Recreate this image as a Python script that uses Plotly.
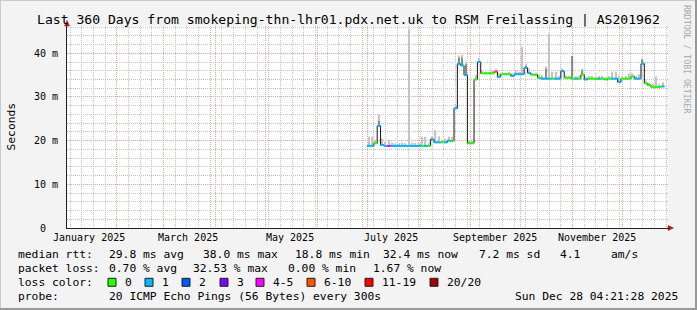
import plotly.graph_objects as go
import pandas as pd

# ---------------- data ----------------
TITLE = "Last 360 Days from smokeping-thn-lhr01.pdx.net.uk to RSM Freilassing | AS201962"
END = pd.Timestamp("2025-12-28 04:21:28")
START = END - pd.Timedelta(days=360)

# one sample per 2 days, starting 2025-07-01
dates = pd.date_range("2025-07-01", periods=89, freq="2D")

median_ms = [
    18.8, 18.8, 19.4, 23.4, 19.0, 18.8, 18.8, 18.8, 18.8, 18.8,
    18.8, 18.8, 18.8, 18.8, 18.8, 18.8, 18.8, 18.8, 18.8, 20.3,
    19.6, 19.6, 19.6, 19.6, 20.0, 19.9, 27.4, 37.6, 37.2, 35.0,
    19.4, 19.4, 34.0, 38.0, 35.4, 35.4, 35.4, 35.4, 35.8, 34.6,
    35.2, 35.2, 35.2, 34.8, 35.2, 35.2, 35.2, 36.7, 35.5, 35.1,
    35.1, 34.4, 34.2, 34.2, 34.2, 34.2, 34.2, 34.2, 35.9, 34.4,
    34.4, 34.2, 34.2, 34.2, 35.1, 34.0, 34.2, 34.2, 34.1, 34.2,
    34.2, 34.0, 34.2, 34.2, 34.2, 33.4, 34.2, 34.2, 34.2, 34.7,
    34.2, 34.2, 37.6, 33.1, 32.7, 32.3, 32.3, 32.3, 32.4,
]

# index into loss_labels / loss_colors
loss_level = [
    1, 1, 0, 1, 1, 1, 4, 1, 1, 1,
    1, 1, 1, 1, 1, 1, 0, 1, 0, 1,
    1, 1, 0, 1, 1, 0, 1, 1, 1, 1,
    0, 0, 0, 1, 0, 0, 0, 0, 5, 1,
    0, 0, 0, 1, 1, 1, 1, 1, 1, 0,
    0, 0, 1, 1, 1, 0, 1, 1, 1, 0,
    0, 0, 1, 0, 0, 1, 0, 0, 0, 1,
    0, 0, 0, 1, 1, 1, 0, 0, 0, 0,
    1, 1, 1, 0, 0, 0, 0, 0, 1,
]

# upper edge of the light smoke (slowest pings)
ping_max = [
    20.9, 20.9, 20.2, 26.0, 20.5, 19.8, 20.2, 19.6, 19.4, 19.4,
    19.6, 19.4, 45.5, 19.6, 19.5, 19.6, 20.9, 20.9, 19.6, 21.0,
    22.4, 21.0, 20.2, 20.4, 20.9, 20.9, 28.0, 39.5, 39.6, 38.0,
    20.0, 19.9, 35.0, 39.0, 36.0, 35.8, 35.8, 36.0, 36.4, 35.4,
    35.6, 35.6, 35.8, 35.5, 36.0, 35.8, 41.5, 37.6, 36.5, 35.5,
    35.5, 35.2, 35.0, 37.0, 44.5, 35.8, 35.8, 34.8, 36.5, 34.9,
    34.8, 39.4, 34.8, 34.8, 36.5, 34.6, 34.8, 34.8, 34.6, 34.8,
    34.8, 34.6, 34.8, 35.8, 35.8, 34.8, 34.6, 34.8, 35.4, 35.4,
    34.8, 35.2, 38.8, 33.8, 33.2, 33.0, 34.7, 32.9, 33.4,
]

# upper edge of the dark (inner) smoke, None where it is hidden by the line
ping_dark = [
    None, None, None, 24.5, None, None, None, None, None, None,
    None, None, None, None, None, None, None, None, None, None,
    None, None, None, None, None, None, None, 39.0, 39.0, 37.5,
    None, None, None, 38.0, None, None, None, None, None, None,
    None, None, None, None, None, None, None, 37.0, None, None,
    None, None, None, 36.5, None, None, None, None, 36.0, None,
    None, 39.4, None, None, 36.0, None, None, None, None, None,
    None, None, None, None, None, None, None, None, None, None,
    None, None, 38.5, None, None, None, None, None, None,
]

loss_labels = ["0", "1", "2", "3", "4-5", "6-10", "11-19", "20/20"]
loss_colors = ["#26ff00", "#00b8ff", "#0059ff", "#7e00ff",
               "#ff00ff", "#ff5500", "#ff0000", "#a10000"]

month_labels = ["January 2025", "March 2025", "May 2025",
                "July 2025", "September 2025", "November 2025"]
month_label_dates = ["2025-01-15 12:00", "2025-03-15 12:00", "2025-05-15 12:00",
                     "2025-07-15 12:00", "2025-09-15 12:00", "2025-11-15 12:00"]
month_starts = pd.date_range("2025-02-01", "2025-12-01", freq="MS")

y_tickvals = [0, 10, 20, 30, 40]
y_ticktext = ["0\u00a0\u00a0", "10 m", "20 m", "30 m", "40 m"]

stats_rtt = ["median rtt:", "29.8 ms avg", "38.0 ms max", "18.8 ms min",
             "32.4 ms now", "7.2 ms sd", "4.1", "am/s"]
stats_loss = ["packet loss:", "0.70 % avg", "32.53 % max", "0.00 % min", "1.67 % now"]
probe_text = ["probe:", "20 ICMP Echo Pings (56 Bytes) every 300s"]
date_text = "Sun Dec 28 04:21:28 2025"

# ---------------- layout helpers ----------------
W, H = 697, 310
L, R, T, B = 67, 668, 26, 228
def px(x):
    return (x - L) / (R - L)
def py(y):
    return (B - y) / (B - T)

FONT = "DejaVu Sans Mono"
DAY_MS = 86400000
STEP_MS = 2 * DAY_MS
SMOKE_W = int(0.75 * DAY_MS)
SMOKE_OFF = int(0.6 * DAY_MS)

fig = go.Figure()

# smoke (light)
fig.add_trace(go.Bar(
    x=dates, y=[hi - m for hi, m in zip(ping_max, median_ms)], base=median_ms,
    width=SMOKE_W, offset=SMOKE_OFF, marker=dict(color="#c4c4c4", line=dict(width=0)),
    hoverinfo="skip"))
# smoke (dark)
dark_x = [d for d, v in zip(dates, ping_dark) if v is not None]
dark_m = [m for m, v in zip(median_ms, ping_dark) if v is not None]
dark_h = [v - m for m, v in zip(median_ms, ping_dark) if v is not None]
fig.add_trace(go.Bar(
    x=dark_x, y=dark_h, base=dark_m, width=SMOKE_W, offset=SMOKE_OFF,
    marker=dict(color="#8c8c8c", line=dict(width=0)), hoverinfo="skip"))

# black median step line
edges = list(dates) + [dates[-1] + pd.Timedelta(days=2)]
fig.add_trace(go.Scatter(
    x=edges, y=median_ms + [median_ms[-1]], mode="lines", line_shape="hv",
    line=dict(color="#111111", width=1), hoverinfo="skip"))

# loss coloured median segments
for lvl, col in enumerate(loss_colors):
    xs, ys = [], []
    for i, (m, lv) in enumerate(zip(median_ms, loss_level)):
        if lv == lvl:
            xs += [edges[i], edges[i + 1], None]
            ys += [m, m, None]
    if xs:
        fig.add_trace(go.Scatter(x=xs, y=ys, mode="lines",
                                 line=dict(color=col, width=2), hoverinfo="skip"))

ann = []
def text(x, y, s, size=11.3, xanchor="left", color="#000", angle=0):
    ann.append(dict(x=px(x), y=py(y), xref="paper", yref="paper", text=s,
                    showarrow=False, xanchor=xanchor, yanchor="middle",
                    textangle=angle,
                    font=dict(family=FONT, size=size, color=color)))

# title and side texts
text(348.5, 19.5, TITLE, size=13.1, xanchor="center")
text(10.5, 127, "Seconds", size=11.3, xanchor="center", angle=-90)
text(687, 59, "RRDTOOL / TOBI OETIKER", size=8.2, xanchor="center",
     color="#a8a8a8", angle=90)

# x axis labels
for lab, d in zip(month_labels, month_label_dates):
    ann.append(dict(x=d, y=py(237.5), xref="x", yref="paper", text=lab,
                    showarrow=False, xanchor="center", yanchor="middle",
                    font=dict(family=FONT, size=10, color="#000")))

# legend / statistics lines
rtt_x = [16, 107, 201, 293, 381, 477, 558, 609]
for s, x in zip(stats_rtt, rtt_x):
    text(x, 254.3, s)
loss_x = [16, 107, 191, 286, 371]
for s, x in zip(stats_loss, loss_x):
    text(x, 268.3, s)
text(16, 282.3, "loss color:")
box_x = [108, 145, 182, 220, 256, 307, 365, 430]
shapes = []
for lab, col, x in zip(loss_labels, loss_colors, box_x):
    shapes.append(dict(type="rect", xref="paper", yref="paper",
                       x0=px(x), x1=px(x + 8), y0=py(286.3), y1=py(278.3),
                       fillcolor=col, line=dict(color="#202020", width=1)))
    text(x + 15, 282.3, lab)
text(16, 296.3, probe_text[0])
text(107, 296.3, probe_text[1])
text(680, 296.3, date_text, xanchor="right")

# arrows
shapes.append(dict(type="path", xref="paper", yref="paper",
                   path=f"M {px(668)},{py(225.5)} L {px(673.5)},{py(228)} L {px(668)},{py(230.5)} Z",
                   fillcolor="#a01818", line=dict(color="#a01818", width=0.5)))
shapes.append(dict(type="path", xref="paper", yref="paper",
                   path=f"M {px(64.5)},{py(26)} L {px(67)},{py(20.5)} L {px(69.5)},{py(26)} Z",
                   fillcolor="#a01818", line=dict(color="#a01818", width=0.5)))
# outer frame
shapes.append(dict(type="line", xref="paper", yref="paper", x0=px(0), x1=px(W),
                   y0=py(0.5), y1=py(0.5), line=dict(color="#cbcbcb", width=1)))
shapes.append(dict(type="line", xref="paper", yref="paper", x0=px(0.5), x1=px(0.5),
                   y0=py(0), y1=py(H), line=dict(color="#cbcbcb", width=1)))
shapes.append(dict(type="line", xref="paper", yref="paper", x0=px(0), x1=px(W),
                   y0=py(H - 1), y1=py(H - 1), line=dict(color="#999999", width=2)))
shapes.append(dict(type="line", xref="paper", yref="paper", x0=px(W - 1), x1=px(W - 1),
                   y0=py(0), y1=py(H), line=dict(color="#999999", width=2)))

MGRID = "#e8a4a4"
GRID = "#c4c4c4"
DOT = "1px,1px"

fig.update_layout(
    width=W, height=H, autosize=False,
    margin=dict(l=L, r=W - R, t=T, b=H - B, pad=0),
    paper_bgcolor="#f3f3f3", plot_bgcolor="#ffffff",
    showlegend=False, barmode="overlay",
    annotations=ann, shapes=shapes,
    xaxis=dict(type="date", range=[START, END], fixedrange=True,
               tickmode="array", tickvals=list(month_starts), showticklabels=False,
               ticks="", showgrid=True, gridcolor=MGRID, griddash=DOT, gridwidth=1,
               zeroline=False, showline=True, linecolor="#202020", linewidth=1,
               minor=dict(tick0="2025-01-04", dtick=7 * DAY_MS, showgrid=True,
                          gridcolor=GRID, griddash=DOT, gridwidth=1, ticks="")),
    yaxis=dict(range=[0, (B - T) / 4.3675], fixedrange=True,
               tickmode="array", tickvals=y_tickvals, ticktext=y_ticktext,
               ticks="", ticklabelstandoff=6,
               tickfont=dict(family=FONT, size=10, color="#000"),
               showgrid=True, gridcolor=MGRID, griddash=DOT, gridwidth=1,
               zeroline=False, showline=True, linecolor="#202020", linewidth=1,
               minor=dict(dtick=2, showgrid=True, gridcolor=GRID, griddash=DOT,
                          gridwidth=1, ticks="")),
)

fig.write_html("out.html")
